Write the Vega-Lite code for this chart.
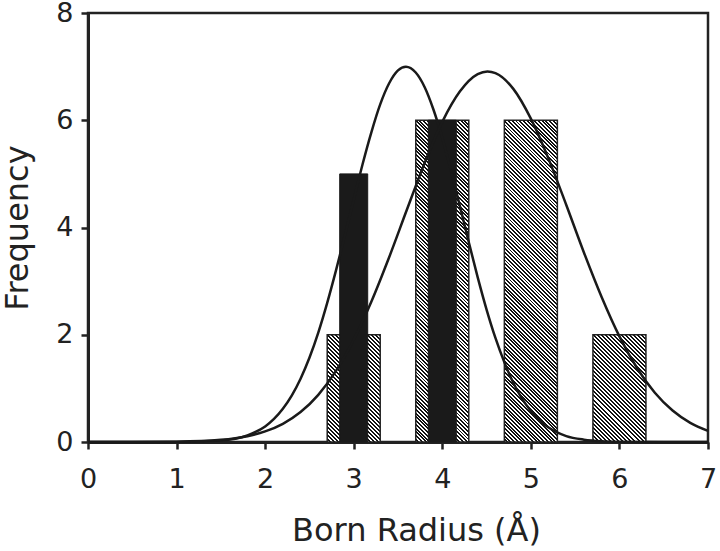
{
  "$schema": "https://vega.github.io/schema/vega-lite/v6.json",
  "width": 620,
  "height": 429,
  "autosize": {"type": "none"},
  "padding": {"left": 88, "top": 13, "right": 12, "bottom": 109},
  "background": "white",
  "config": {
    "view": {"stroke": "#222", "strokeWidth": 2.5},
    "font": "DejaVu Sans",
    "axis": {
      "grid": false,
      "domainColor": "#222",
      "domainWidth": 3,
      "tickColor": "#222",
      "tickWidth": 2.5,
      "tickSize": 7,
      "labelFont": "DejaVu Sans",
      "labelFontSize": 27,
      "labelColor": "#222",
      "labelFlush": false,
      "labelOverlap": false,
      "titleFont": "DejaVu Sans",
      "titleFontSize": 32,
      "titleFontWeight": "normal",
      "titleColor": "#222"
    }
  },
  "datasets": {
    "hatched": [
      {"x": 3, "y": 2},
      {"x": 4, "y": 6},
      {"x": 5, "y": 6},
      {"x": 6, "y": 2}
    ],
    "black": [
      {"x": 3, "y": 5},
      {"x": 4, "y": 6}
    ],
    "curves": [
      {"series": "A", "x": 0, "y": 0},
      {"series": "A", "x": 0.5, "y": 0},
      {"series": "A", "x": 1, "y": 0.0015},
      {"series": "A", "x": 1.5, "y": 0.029},
      {"series": "A", "x": 1.8, "y": 0.125},
      {"series": "A", "x": 2.0, "y": 0.29},
      {"series": "A", "x": 2.1, "y": 0.43},
      {"series": "A", "x": 2.2, "y": 0.62},
      {"series": "A", "x": 2.3, "y": 0.865},
      {"series": "A", "x": 2.4, "y": 1.18},
      {"series": "A", "x": 2.5, "y": 1.57},
      {"series": "A", "x": 2.6, "y": 2.04},
      {"series": "A", "x": 2.7, "y": 2.59},
      {"series": "A", "x": 2.8, "y": 3.20},
      {"series": "A", "x": 2.9, "y": 3.85},
      {"series": "A", "x": 3.0, "y": 4.52},
      {"series": "A", "x": 3.1, "y": 5.18},
      {"series": "A", "x": 3.2, "y": 5.78},
      {"series": "A", "x": 3.3, "y": 6.30},
      {"series": "A", "x": 3.4, "y": 6.69},
      {"series": "A", "x": 3.5, "y": 6.93},
      {"series": "A", "x": 3.59, "y": 7.0},
      {"series": "A", "x": 3.7, "y": 6.89},
      {"series": "A", "x": 3.8, "y": 6.62},
      {"series": "A", "x": 3.9, "y": 6.20},
      {"series": "A", "x": 4.0, "y": 5.67},
      {"series": "A", "x": 4.1, "y": 5.05},
      {"series": "A", "x": 4.2, "y": 4.39},
      {"series": "A", "x": 4.3, "y": 3.72},
      {"series": "A", "x": 4.4, "y": 3.07},
      {"series": "A", "x": 4.5, "y": 2.47},
      {"series": "A", "x": 4.6, "y": 1.94},
      {"series": "A", "x": 4.7, "y": 1.49},
      {"series": "A", "x": 4.8, "y": 1.11},
      {"series": "A", "x": 4.9, "y": 0.81},
      {"series": "A", "x": 5.0, "y": 0.58},
      {"series": "A", "x": 5.1, "y": 0.40},
      {"series": "A", "x": 5.2, "y": 0.27},
      {"series": "A", "x": 5.4, "y": 0.11},
      {"series": "A", "x": 5.6, "y": 0.044},
      {"series": "A", "x": 5.8, "y": 0.015},
      {"series": "A", "x": 6.0, "y": 0.005},
      {"series": "A", "x": 6.5, "y": 0},
      {"series": "A", "x": 7.0, "y": 0},
      {"series": "B", "x": 0, "y": 0},
      {"series": "B", "x": 0.5, "y": 0.0002},
      {"series": "B", "x": 1.0, "y": 0.0066},
      {"series": "B", "x": 1.5, "y": 0.041},
      {"series": "B", "x": 1.8, "y": 0.109},
      {"series": "B", "x": 2.0, "y": 0.197},
      {"series": "B", "x": 2.2, "y": 0.339},
      {"series": "B", "x": 2.4, "y": 0.558},
      {"series": "B", "x": 2.6, "y": 0.880},
      {"series": "B", "x": 2.8, "y": 1.325},
      {"series": "B", "x": 3.0, "y": 1.906},
      {"series": "B", "x": 3.2, "y": 2.62},
      {"series": "B", "x": 3.4, "y": 3.445},
      {"series": "B", "x": 3.6, "y": 4.33},
      {"series": "B", "x": 3.8, "y": 5.20},
      {"series": "B", "x": 4.0, "y": 5.97},
      {"series": "B", "x": 4.2, "y": 6.54},
      {"series": "B", "x": 4.4, "y": 6.86},
      {"series": "B", "x": 4.51, "y": 6.91},
      {"series": "B", "x": 4.6, "y": 6.88},
      {"series": "B", "x": 4.8, "y": 6.59},
      {"series": "B", "x": 5.0, "y": 6.03},
      {"series": "B", "x": 5.2, "y": 5.28},
      {"series": "B", "x": 5.4, "y": 4.42},
      {"series": "B", "x": 5.6, "y": 3.53},
      {"series": "B", "x": 5.8, "y": 2.70},
      {"series": "B", "x": 6.0, "y": 1.97},
      {"series": "B", "x": 6.2, "y": 1.376},
      {"series": "B", "x": 6.4, "y": 0.918},
      {"series": "B", "x": 6.6, "y": 0.586},
      {"series": "B", "x": 6.8, "y": 0.357},
      {"series": "B", "x": 7.0, "y": 0.208}
    ]
  },
  "encoding": {
    "x": {
      "field": "x",
      "type": "quantitative",
      "scale": {"domain": [0, 7], "nice": false, "zero": false, "padding": 0},
      "axis": {
        "title": "Born Radius (Å)",
        "values": [0, 1, 2, 3, 4, 5, 6, 7],
        "format": "d",
        "labelPadding": 17,
        "titleX": 328,
        "titleY": 98,
        "titleBaseline": "alphabetic",
        "titleAlign": "center"
      }
    },
    "y": {
      "field": "y",
      "type": "quantitative",
      "stack": null,
      "scale": {"domain": [0, 8], "nice": false, "padding": 0},
      "axis": {
        "title": "Frequency",
        "values": [0, 2, 4, 6, 8],
        "format": "d",
        "labelPadding": 8,
        "titleX": -61,
        "titleY": 214.5,
        "titleAngle": 270,
        "titleBaseline": "alphabetic",
        "titleAlign": "center"
      }
    }
  },
  "layer": [
    {
      "data": {"name": "hatched"},
      "transform": [{"filter": "datum.y == 6"}],
      "mark": {
        "type": "bar",
        "orient": "vertical",
        "size": 53,
        "stroke": "#222",
        "strokeWidth": 1.5,
        "fill": {
          "gradient": "linear",
          "x1": 0, "y1": 1, "x2": 0.18679, "y2": -0.13395,
          "stops": [
            {"offset":0,"color":"#fff"},
            {"offset":0.005,"color":"#fff"},{"offset":0.005,"color":"#111"},{"offset":0.01,"color":"#111"},{"offset":0.01,"color":"#fff"},
            {"offset":0.015,"color":"#fff"},{"offset":0.015,"color":"#111"},{"offset":0.02,"color":"#111"},{"offset":0.02,"color":"#fff"},
            {"offset":0.025,"color":"#fff"},{"offset":0.025,"color":"#111"},{"offset":0.03,"color":"#111"},{"offset":0.03,"color":"#fff"},
            {"offset":0.035,"color":"#fff"},{"offset":0.035,"color":"#111"},{"offset":0.04,"color":"#111"},{"offset":0.04,"color":"#fff"},
            {"offset":0.045,"color":"#fff"},{"offset":0.045,"color":"#111"},{"offset":0.05,"color":"#111"},{"offset":0.05,"color":"#fff"},
            {"offset":0.055,"color":"#fff"},{"offset":0.055,"color":"#111"},{"offset":0.06,"color":"#111"},{"offset":0.06,"color":"#fff"},
            {"offset":0.065,"color":"#fff"},{"offset":0.065,"color":"#111"},{"offset":0.07,"color":"#111"},{"offset":0.07,"color":"#fff"},
            {"offset":0.075,"color":"#fff"},{"offset":0.075,"color":"#111"},{"offset":0.08,"color":"#111"},{"offset":0.08,"color":"#fff"},
            {"offset":0.085,"color":"#fff"},{"offset":0.085,"color":"#111"},{"offset":0.09,"color":"#111"},{"offset":0.09,"color":"#fff"},
            {"offset":0.095,"color":"#fff"},{"offset":0.095,"color":"#111"},{"offset":0.1,"color":"#111"},{"offset":0.1,"color":"#fff"},
            {"offset":0.105,"color":"#fff"},{"offset":0.105,"color":"#111"},{"offset":0.11,"color":"#111"},{"offset":0.11,"color":"#fff"},
            {"offset":0.115,"color":"#fff"},{"offset":0.115,"color":"#111"},{"offset":0.12,"color":"#111"},{"offset":0.12,"color":"#fff"},
            {"offset":0.125,"color":"#fff"},{"offset":0.125,"color":"#111"},{"offset":0.13,"color":"#111"},{"offset":0.13,"color":"#fff"},
            {"offset":0.135,"color":"#fff"},{"offset":0.135,"color":"#111"},{"offset":0.14,"color":"#111"},{"offset":0.14,"color":"#fff"},
            {"offset":0.145,"color":"#fff"},{"offset":0.145,"color":"#111"},{"offset":0.15,"color":"#111"},{"offset":0.15,"color":"#fff"},
            {"offset":0.155,"color":"#fff"},{"offset":0.155,"color":"#111"},{"offset":0.16,"color":"#111"},{"offset":0.16,"color":"#fff"},
            {"offset":0.165,"color":"#fff"},{"offset":0.165,"color":"#111"},{"offset":0.17,"color":"#111"},{"offset":0.17,"color":"#fff"},
            {"offset":0.175,"color":"#fff"},{"offset":0.175,"color":"#111"},{"offset":0.18,"color":"#111"},{"offset":0.18,"color":"#fff"},
            {"offset":0.185,"color":"#fff"},{"offset":0.185,"color":"#111"},{"offset":0.19,"color":"#111"},{"offset":0.19,"color":"#fff"},
            {"offset":0.195,"color":"#fff"},{"offset":0.195,"color":"#111"},{"offset":0.2,"color":"#111"},{"offset":0.2,"color":"#fff"},
            {"offset":0.205,"color":"#fff"},{"offset":0.205,"color":"#111"},{"offset":0.21,"color":"#111"},{"offset":0.21,"color":"#fff"},
            {"offset":0.215,"color":"#fff"},{"offset":0.215,"color":"#111"},{"offset":0.22,"color":"#111"},{"offset":0.22,"color":"#fff"},
            {"offset":0.225,"color":"#fff"},{"offset":0.225,"color":"#111"},{"offset":0.23,"color":"#111"},{"offset":0.23,"color":"#fff"},
            {"offset":0.235,"color":"#fff"},{"offset":0.235,"color":"#111"},{"offset":0.24,"color":"#111"},{"offset":0.24,"color":"#fff"},
            {"offset":0.245,"color":"#fff"},{"offset":0.245,"color":"#111"},{"offset":0.25,"color":"#111"},{"offset":0.25,"color":"#fff"},
            {"offset":0.255,"color":"#fff"},{"offset":0.255,"color":"#111"},{"offset":0.26,"color":"#111"},{"offset":0.26,"color":"#fff"},
            {"offset":0.265,"color":"#fff"},{"offset":0.265,"color":"#111"},{"offset":0.27,"color":"#111"},{"offset":0.27,"color":"#fff"},
            {"offset":0.275,"color":"#fff"},{"offset":0.275,"color":"#111"},{"offset":0.28,"color":"#111"},{"offset":0.28,"color":"#fff"},
            {"offset":0.285,"color":"#fff"},{"offset":0.285,"color":"#111"},{"offset":0.29,"color":"#111"},{"offset":0.29,"color":"#fff"},
            {"offset":0.295,"color":"#fff"},{"offset":0.295,"color":"#111"},{"offset":0.3,"color":"#111"},{"offset":0.3,"color":"#fff"},
            {"offset":0.305,"color":"#fff"},{"offset":0.305,"color":"#111"},{"offset":0.31,"color":"#111"},{"offset":0.31,"color":"#fff"},
            {"offset":0.315,"color":"#fff"},{"offset":0.315,"color":"#111"},{"offset":0.32,"color":"#111"},{"offset":0.32,"color":"#fff"},
            {"offset":0.325,"color":"#fff"},{"offset":0.325,"color":"#111"},{"offset":0.33,"color":"#111"},{"offset":0.33,"color":"#fff"},
            {"offset":0.335,"color":"#fff"},{"offset":0.335,"color":"#111"},{"offset":0.34,"color":"#111"},{"offset":0.34,"color":"#fff"},
            {"offset":0.345,"color":"#fff"},{"offset":0.345,"color":"#111"},{"offset":0.35,"color":"#111"},{"offset":0.35,"color":"#fff"},
            {"offset":0.355,"color":"#fff"},{"offset":0.355,"color":"#111"},{"offset":0.36,"color":"#111"},{"offset":0.36,"color":"#fff"},
            {"offset":0.365,"color":"#fff"},{"offset":0.365,"color":"#111"},{"offset":0.37,"color":"#111"},{"offset":0.37,"color":"#fff"},
            {"offset":0.375,"color":"#fff"},{"offset":0.375,"color":"#111"},{"offset":0.38,"color":"#111"},{"offset":0.38,"color":"#fff"},
            {"offset":0.385,"color":"#fff"},{"offset":0.385,"color":"#111"},{"offset":0.39,"color":"#111"},{"offset":0.39,"color":"#fff"},
            {"offset":0.395,"color":"#fff"},{"offset":0.395,"color":"#111"},{"offset":0.4,"color":"#111"},{"offset":0.4,"color":"#fff"},
            {"offset":0.405,"color":"#fff"},{"offset":0.405,"color":"#111"},{"offset":0.41,"color":"#111"},{"offset":0.41,"color":"#fff"},
            {"offset":0.415,"color":"#fff"},{"offset":0.415,"color":"#111"},{"offset":0.42,"color":"#111"},{"offset":0.42,"color":"#fff"},
            {"offset":0.425,"color":"#fff"},{"offset":0.425,"color":"#111"},{"offset":0.43,"color":"#111"},{"offset":0.43,"color":"#fff"},
            {"offset":0.435,"color":"#fff"},{"offset":0.435,"color":"#111"},{"offset":0.44,"color":"#111"},{"offset":0.44,"color":"#fff"},
            {"offset":0.445,"color":"#fff"},{"offset":0.445,"color":"#111"},{"offset":0.45,"color":"#111"},{"offset":0.45,"color":"#fff"},
            {"offset":0.455,"color":"#fff"},{"offset":0.455,"color":"#111"},{"offset":0.46,"color":"#111"},{"offset":0.46,"color":"#fff"},
            {"offset":0.465,"color":"#fff"},{"offset":0.465,"color":"#111"},{"offset":0.47,"color":"#111"},{"offset":0.47,"color":"#fff"},
            {"offset":0.475,"color":"#fff"},{"offset":0.475,"color":"#111"},{"offset":0.48,"color":"#111"},{"offset":0.48,"color":"#fff"},
            {"offset":0.485,"color":"#fff"},{"offset":0.485,"color":"#111"},{"offset":0.49,"color":"#111"},{"offset":0.49,"color":"#fff"},
            {"offset":0.495,"color":"#fff"},{"offset":0.495,"color":"#111"},{"offset":0.5,"color":"#111"},{"offset":0.5,"color":"#fff"},
            {"offset":0.505,"color":"#fff"},{"offset":0.505,"color":"#111"},{"offset":0.51,"color":"#111"},{"offset":0.51,"color":"#fff"},
            {"offset":0.515,"color":"#fff"},{"offset":0.515,"color":"#111"},{"offset":0.52,"color":"#111"},{"offset":0.52,"color":"#fff"},
            {"offset":0.525,"color":"#fff"},{"offset":0.525,"color":"#111"},{"offset":0.53,"color":"#111"},{"offset":0.53,"color":"#fff"},
            {"offset":0.535,"color":"#fff"},{"offset":0.535,"color":"#111"},{"offset":0.54,"color":"#111"},{"offset":0.54,"color":"#fff"},
            {"offset":0.545,"color":"#fff"},{"offset":0.545,"color":"#111"},{"offset":0.55,"color":"#111"},{"offset":0.55,"color":"#fff"},
            {"offset":0.555,"color":"#fff"},{"offset":0.555,"color":"#111"},{"offset":0.56,"color":"#111"},{"offset":0.56,"color":"#fff"},
            {"offset":0.565,"color":"#fff"},{"offset":0.565,"color":"#111"},{"offset":0.57,"color":"#111"},{"offset":0.57,"color":"#fff"},
            {"offset":0.575,"color":"#fff"},{"offset":0.575,"color":"#111"},{"offset":0.58,"color":"#111"},{"offset":0.58,"color":"#fff"},
            {"offset":0.585,"color":"#fff"},{"offset":0.585,"color":"#111"},{"offset":0.59,"color":"#111"},{"offset":0.59,"color":"#fff"},
            {"offset":0.595,"color":"#fff"},{"offset":0.595,"color":"#111"},{"offset":0.6,"color":"#111"},{"offset":0.6,"color":"#fff"},
            {"offset":0.605,"color":"#fff"},{"offset":0.605,"color":"#111"},{"offset":0.61,"color":"#111"},{"offset":0.61,"color":"#fff"},
            {"offset":0.615,"color":"#fff"},{"offset":0.615,"color":"#111"},{"offset":0.62,"color":"#111"},{"offset":0.62,"color":"#fff"},
            {"offset":0.625,"color":"#fff"},{"offset":0.625,"color":"#111"},{"offset":0.63,"color":"#111"},{"offset":0.63,"color":"#fff"},
            {"offset":0.635,"color":"#fff"},{"offset":0.635,"color":"#111"},{"offset":0.64,"color":"#111"},{"offset":0.64,"color":"#fff"},
            {"offset":0.645,"color":"#fff"},{"offset":0.645,"color":"#111"},{"offset":0.65,"color":"#111"},{"offset":0.65,"color":"#fff"},
            {"offset":0.655,"color":"#fff"},{"offset":0.655,"color":"#111"},{"offset":0.66,"color":"#111"},{"offset":0.66,"color":"#fff"},
            {"offset":0.665,"color":"#fff"},{"offset":0.665,"color":"#111"},{"offset":0.67,"color":"#111"},{"offset":0.67,"color":"#fff"},
            {"offset":0.675,"color":"#fff"},{"offset":0.675,"color":"#111"},{"offset":0.68,"color":"#111"},{"offset":0.68,"color":"#fff"},
            {"offset":0.685,"color":"#fff"},{"offset":0.685,"color":"#111"},{"offset":0.69,"color":"#111"},{"offset":0.69,"color":"#fff"},
            {"offset":0.695,"color":"#fff"},{"offset":0.695,"color":"#111"},{"offset":0.7,"color":"#111"},{"offset":0.7,"color":"#fff"},
            {"offset":0.705,"color":"#fff"},{"offset":0.705,"color":"#111"},{"offset":0.71,"color":"#111"},{"offset":0.71,"color":"#fff"},
            {"offset":0.715,"color":"#fff"},{"offset":0.715,"color":"#111"},{"offset":0.72,"color":"#111"},{"offset":0.72,"color":"#fff"},
            {"offset":0.725,"color":"#fff"},{"offset":0.725,"color":"#111"},{"offset":0.73,"color":"#111"},{"offset":0.73,"color":"#fff"},
            {"offset":0.735,"color":"#fff"},{"offset":0.735,"color":"#111"},{"offset":0.74,"color":"#111"},{"offset":0.74,"color":"#fff"},
            {"offset":0.745,"color":"#fff"},{"offset":0.745,"color":"#111"},{"offset":0.75,"color":"#111"},{"offset":0.75,"color":"#fff"},
            {"offset":0.755,"color":"#fff"},{"offset":0.755,"color":"#111"},{"offset":0.76,"color":"#111"},{"offset":0.76,"color":"#fff"},
            {"offset":0.765,"color":"#fff"},{"offset":0.765,"color":"#111"},{"offset":0.77,"color":"#111"},{"offset":0.77,"color":"#fff"},
            {"offset":0.775,"color":"#fff"},{"offset":0.775,"color":"#111"},{"offset":0.78,"color":"#111"},{"offset":0.78,"color":"#fff"},
            {"offset":0.785,"color":"#fff"},{"offset":0.785,"color":"#111"},{"offset":0.79,"color":"#111"},{"offset":0.79,"color":"#fff"},
            {"offset":0.795,"color":"#fff"},{"offset":0.795,"color":"#111"},{"offset":0.8,"color":"#111"},{"offset":0.8,"color":"#fff"},
            {"offset":0.805,"color":"#fff"},{"offset":0.805,"color":"#111"},{"offset":0.81,"color":"#111"},{"offset":0.81,"color":"#fff"},
            {"offset":0.815,"color":"#fff"},{"offset":0.815,"color":"#111"},{"offset":0.82,"color":"#111"},{"offset":0.82,"color":"#fff"},
            {"offset":0.825,"color":"#fff"},{"offset":0.825,"color":"#111"},{"offset":0.83,"color":"#111"},{"offset":0.83,"color":"#fff"},
            {"offset":0.835,"color":"#fff"},{"offset":0.835,"color":"#111"},{"offset":0.84,"color":"#111"},{"offset":0.84,"color":"#fff"},
            {"offset":0.845,"color":"#fff"},{"offset":0.845,"color":"#111"},{"offset":0.85,"color":"#111"},{"offset":0.85,"color":"#fff"},
            {"offset":0.855,"color":"#fff"},{"offset":0.855,"color":"#111"},{"offset":0.86,"color":"#111"},{"offset":0.86,"color":"#fff"},
            {"offset":0.865,"color":"#fff"},{"offset":0.865,"color":"#111"},{"offset":0.87,"color":"#111"},{"offset":0.87,"color":"#fff"},
            {"offset":0.875,"color":"#fff"},{"offset":0.875,"color":"#111"},{"offset":0.88,"color":"#111"},{"offset":0.88,"color":"#fff"},
            {"offset":0.885,"color":"#fff"},{"offset":0.885,"color":"#111"},{"offset":0.89,"color":"#111"},{"offset":0.89,"color":"#fff"},
            {"offset":0.895,"color":"#fff"},{"offset":0.895,"color":"#111"},{"offset":0.9,"color":"#111"},{"offset":0.9,"color":"#fff"},
            {"offset":0.905,"color":"#fff"},{"offset":0.905,"color":"#111"},{"offset":0.91,"color":"#111"},{"offset":0.91,"color":"#fff"},
            {"offset":0.915,"color":"#fff"},{"offset":0.915,"color":"#111"},{"offset":0.92,"color":"#111"},{"offset":0.92,"color":"#fff"},
            {"offset":0.925,"color":"#fff"},{"offset":0.925,"color":"#111"},{"offset":0.93,"color":"#111"},{"offset":0.93,"color":"#fff"},
            {"offset":0.935,"color":"#fff"},{"offset":0.935,"color":"#111"},{"offset":0.94,"color":"#111"},{"offset":0.94,"color":"#fff"},
            {"offset":0.945,"color":"#fff"},{"offset":0.945,"color":"#111"},{"offset":0.95,"color":"#111"},{"offset":0.95,"color":"#fff"},
            {"offset":0.955,"color":"#fff"},{"offset":0.955,"color":"#111"},{"offset":0.96,"color":"#111"},{"offset":0.96,"color":"#fff"},
            {"offset":0.965,"color":"#fff"},{"offset":0.965,"color":"#111"},{"offset":0.97,"color":"#111"},{"offset":0.97,"color":"#fff"},
            {"offset":0.975,"color":"#fff"},{"offset":0.975,"color":"#111"},{"offset":0.98,"color":"#111"},{"offset":0.98,"color":"#fff"},
            {"offset":0.985,"color":"#fff"},{"offset":0.985,"color":"#111"},{"offset":0.99,"color":"#111"},{"offset":0.99,"color":"#fff"},
            {"offset":0.995,"color":"#fff"},{"offset":0.995,"color":"#111"},{"offset":1,"color":"#111"}
          ]
        }
      }
    },
    {
      "data": {"name": "hatched"},
      "transform": [{"filter": "datum.y == 2"}],
      "mark": {
        "type": "bar",
        "orient": "vertical",
        "size": 53,
        "stroke": "#222",
        "strokeWidth": 1.5,
        "fill": {
          "gradient": "linear",
          "x1": 0, "y1": 1, "x2": 0.59345, "y2": -0.2009,
          "stops": [
            {"offset":0,"color":"#fff"},
            {"offset":0.0125,"color":"#fff"},{"offset":0.0125,"color":"#111"},{"offset":0.025,"color":"#111"},{"offset":0.025,"color":"#fff"},
            {"offset":0.0375,"color":"#fff"},{"offset":0.0375,"color":"#111"},{"offset":0.05,"color":"#111"},{"offset":0.05,"color":"#fff"},
            {"offset":0.0625,"color":"#fff"},{"offset":0.0625,"color":"#111"},{"offset":0.075,"color":"#111"},{"offset":0.075,"color":"#fff"},
            {"offset":0.0875,"color":"#fff"},{"offset":0.0875,"color":"#111"},{"offset":0.1,"color":"#111"},{"offset":0.1,"color":"#fff"},
            {"offset":0.1125,"color":"#fff"},{"offset":0.1125,"color":"#111"},{"offset":0.125,"color":"#111"},{"offset":0.125,"color":"#fff"},
            {"offset":0.1375,"color":"#fff"},{"offset":0.1375,"color":"#111"},{"offset":0.15,"color":"#111"},{"offset":0.15,"color":"#fff"},
            {"offset":0.1625,"color":"#fff"},{"offset":0.1625,"color":"#111"},{"offset":0.175,"color":"#111"},{"offset":0.175,"color":"#fff"},
            {"offset":0.1875,"color":"#fff"},{"offset":0.1875,"color":"#111"},{"offset":0.2,"color":"#111"},{"offset":0.2,"color":"#fff"},
            {"offset":0.2125,"color":"#fff"},{"offset":0.2125,"color":"#111"},{"offset":0.225,"color":"#111"},{"offset":0.225,"color":"#fff"},
            {"offset":0.2375,"color":"#fff"},{"offset":0.2375,"color":"#111"},{"offset":0.25,"color":"#111"},{"offset":0.25,"color":"#fff"},
            {"offset":0.2625,"color":"#fff"},{"offset":0.2625,"color":"#111"},{"offset":0.275,"color":"#111"},{"offset":0.275,"color":"#fff"},
            {"offset":0.2875,"color":"#fff"},{"offset":0.2875,"color":"#111"},{"offset":0.3,"color":"#111"},{"offset":0.3,"color":"#fff"},
            {"offset":0.3125,"color":"#fff"},{"offset":0.3125,"color":"#111"},{"offset":0.325,"color":"#111"},{"offset":0.325,"color":"#fff"},
            {"offset":0.3375,"color":"#fff"},{"offset":0.3375,"color":"#111"},{"offset":0.35,"color":"#111"},{"offset":0.35,"color":"#fff"},
            {"offset":0.3625,"color":"#fff"},{"offset":0.3625,"color":"#111"},{"offset":0.375,"color":"#111"},{"offset":0.375,"color":"#fff"},
            {"offset":0.3875,"color":"#fff"},{"offset":0.3875,"color":"#111"},{"offset":0.4,"color":"#111"},{"offset":0.4,"color":"#fff"},
            {"offset":0.4125,"color":"#fff"},{"offset":0.4125,"color":"#111"},{"offset":0.425,"color":"#111"},{"offset":0.425,"color":"#fff"},
            {"offset":0.4375,"color":"#fff"},{"offset":0.4375,"color":"#111"},{"offset":0.45,"color":"#111"},{"offset":0.45,"color":"#fff"},
            {"offset":0.4625,"color":"#fff"},{"offset":0.4625,"color":"#111"},{"offset":0.475,"color":"#111"},{"offset":0.475,"color":"#fff"},
            {"offset":0.4875,"color":"#fff"},{"offset":0.4875,"color":"#111"},{"offset":0.5,"color":"#111"},{"offset":0.5,"color":"#fff"},
            {"offset":0.5125,"color":"#fff"},{"offset":0.5125,"color":"#111"},{"offset":0.525,"color":"#111"},{"offset":0.525,"color":"#fff"},
            {"offset":0.5375,"color":"#fff"},{"offset":0.5375,"color":"#111"},{"offset":0.55,"color":"#111"},{"offset":0.55,"color":"#fff"},
            {"offset":0.5625,"color":"#fff"},{"offset":0.5625,"color":"#111"},{"offset":0.575,"color":"#111"},{"offset":0.575,"color":"#fff"},
            {"offset":0.5875,"color":"#fff"},{"offset":0.5875,"color":"#111"},{"offset":0.6,"color":"#111"},{"offset":0.6,"color":"#fff"},
            {"offset":0.6125,"color":"#fff"},{"offset":0.6125,"color":"#111"},{"offset":0.625,"color":"#111"},{"offset":0.625,"color":"#fff"},
            {"offset":0.6375,"color":"#fff"},{"offset":0.6375,"color":"#111"},{"offset":0.65,"color":"#111"},{"offset":0.65,"color":"#fff"},
            {"offset":0.6625,"color":"#fff"},{"offset":0.6625,"color":"#111"},{"offset":0.675,"color":"#111"},{"offset":0.675,"color":"#fff"},
            {"offset":0.6875,"color":"#fff"},{"offset":0.6875,"color":"#111"},{"offset":0.7,"color":"#111"},{"offset":0.7,"color":"#fff"},
            {"offset":0.7125,"color":"#fff"},{"offset":0.7125,"color":"#111"},{"offset":0.725,"color":"#111"},{"offset":0.725,"color":"#fff"},
            {"offset":0.7375,"color":"#fff"},{"offset":0.7375,"color":"#111"},{"offset":0.75,"color":"#111"},{"offset":0.75,"color":"#fff"},
            {"offset":0.7625,"color":"#fff"},{"offset":0.7625,"color":"#111"},{"offset":0.775,"color":"#111"},{"offset":0.775,"color":"#fff"},
            {"offset":0.7875,"color":"#fff"},{"offset":0.7875,"color":"#111"},{"offset":0.8,"color":"#111"},{"offset":0.8,"color":"#fff"},
            {"offset":0.8125,"color":"#fff"},{"offset":0.8125,"color":"#111"},{"offset":0.825,"color":"#111"},{"offset":0.825,"color":"#fff"},
            {"offset":0.8375,"color":"#fff"},{"offset":0.8375,"color":"#111"},{"offset":0.85,"color":"#111"},{"offset":0.85,"color":"#fff"},
            {"offset":0.8625,"color":"#fff"},{"offset":0.8625,"color":"#111"},{"offset":0.875,"color":"#111"},{"offset":0.875,"color":"#fff"},
            {"offset":0.8875,"color":"#fff"},{"offset":0.8875,"color":"#111"},{"offset":0.9,"color":"#111"},{"offset":0.9,"color":"#fff"},
            {"offset":0.9125,"color":"#fff"},{"offset":0.9125,"color":"#111"},{"offset":0.925,"color":"#111"},{"offset":0.925,"color":"#fff"},
            {"offset":0.9375,"color":"#fff"},{"offset":0.9375,"color":"#111"},{"offset":0.95,"color":"#111"},{"offset":0.95,"color":"#fff"},
            {"offset":0.9625,"color":"#fff"},{"offset":0.9625,"color":"#111"},{"offset":0.975,"color":"#111"},{"offset":0.975,"color":"#fff"},
            {"offset":0.9875,"color":"#fff"},{"offset":0.9875,"color":"#111"},{"offset":1,"color":"#111"}
          ]
        }
      }
    },
    {
      "data": {"name": "black"},
      "mark": {
        "type": "bar",
        "orient": "vertical",
        "size": 28,
        "fill": "#1a1a1a",
        "stroke": "#1a1a1a",
        "strokeWidth": 1
      }
    },
    {
      "data": {"name": "curves"},
      "mark": {
        "type": "line",
        "interpolate": "monotone",
        "stroke": "#1a1a1a",
        "strokeWidth": 2.5
      },
      "encoding": {
        "detail": {"field": "series", "type": "nominal"}
      }
    }
  ]
}
